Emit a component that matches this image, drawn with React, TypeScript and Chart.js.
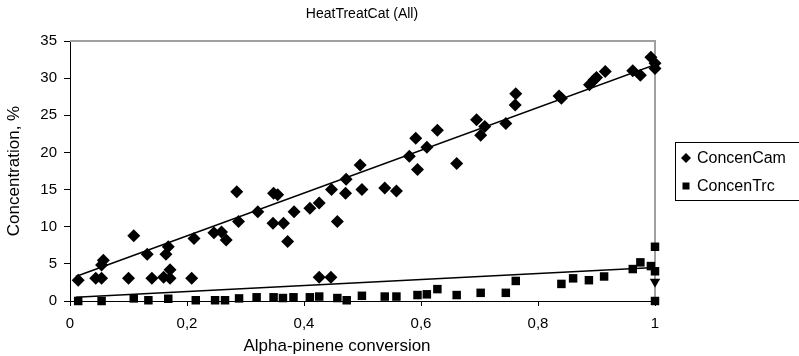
import React, { useEffect, useRef } from 'react';
import { Chart, registerables } from 'chart.js';

Chart.register(...registerables);

const FONT = '"Liberation Sans", Arial, sans-serif';

const chartTitle = 'HeatTreatCat (All)';
const xAxisTitle = 'Alpha-pinene conversion';
const yAxisTitle = 'Concentration, %';
const seriesNames = ['ConcenCam', 'ConcenTrc'];

const xTickValues = [0, 0.2, 0.4, 0.6, 0.8, 1];
const xTickLabels = ['0', '0,2', '0,4', '0,6', '0,8', '1'];
const yTickValues = [0, 5, 10, 15, 20, 25, 30, 35];
const yTickLabels = ['0', '5', '10', '15', '20', '25', '30', '35'];

const camX = [0.014, 0.044, 0.054, 0.054, 0.057, 0.1, 0.109, 0.132, 0.14, 0.16, 0.164, 0.168, 0.171, 0.171, 0.208, 0.212, 0.246, 0.259, 0.267, 0.288, 0.285, 0.321, 0.348, 0.355, 0.347, 0.365, 0.372, 0.383, 0.41, 0.426, 0.447, 0.472, 0.471, 0.457, 0.496, 0.499, 0.538, 0.558, 0.594, 0.58, 0.591, 0.61, 0.628, 0.661, 0.695, 0.709, 0.702, 0.745, 0.761, 0.762, 0.836, 0.84, 0.888, 0.896, 0.9, 0.915, 0.962, 0.975, 0.993, 1.0, 1.0, 0.426, 0.446];
const camY = [2.8, 3.05, 3.05, 4.85, 5.5, 3.05, 8.8, 6.3, 3.05, 3.2, 6.3, 7.3, 4.2, 3.05, 3.05, 8.4, 9.2, 9.3, 8.2, 10.7, 14.7, 12.0, 14.5, 14.3, 10.45, 10.45, 8.0, 12.0, 12.5, 13.2, 15.0, 16.4, 14.5, 10.7, 18.3, 15.0, 15.2, 14.8, 17.7, 19.5, 21.9, 20.7, 23.0, 18.5, 24.4, 23.5, 22.3, 23.9, 26.4, 27.9, 27.6, 27.3, 29.1, 29.8, 30.1, 30.9, 31.0, 30.4, 32.8, 32.0, 31.3, 3.2, 3.2];

const trcX = [0.014, 0.054, 0.109, 0.134, 0.168, 0.215, 0.248, 0.265, 0.289, 0.319, 0.348, 0.364, 0.382, 0.41, 0.426, 0.457, 0.473, 0.499, 0.538, 0.558, 0.594, 0.61, 0.628, 0.661, 0.702, 0.745, 0.762, 0.84, 0.86, 0.887, 0.913, 0.962, 0.975, 0.993, 1.0, 1.0, 1.0];
const trcY = [0, 0, 0.35, 0.1, 0.3, 0.1, 0.1, 0.1, 0.35, 0.5, 0.5, 0.4, 0.5, 0.5, 0.6, 0.4, 0.1, 0.7, 0.6, 0.6, 0.8, 0.9, 1.6, 0.8, 1.1, 1.1, 2.7, 2.3, 3.05, 2.8, 3.3, 4.3, 5.2, 4.7, 4.0, 7.3, 0];

const extraX = [1.0];
const extraY = [2.6];

const camTrendX = [0.01, 1.0];
const camTrendY = [3.3, 31.8];
const trcTrendX = [0.01, 1.0];
const trcTrendY = [0.5, 4.5];

const pts = (xs: number[], ys: number[]) => xs.map((x, i) => ({ x, y: ys[i] }));

const decor = {
  id: 'decor',
  beforeDatasetsDraw(chart: any) {
    const { ctx, chartArea: a } = chart;
    ctx.save();
    ctx.strokeStyle = '#a0a0a0';
    ctx.lineWidth = 2;
    ctx.beginPath();
    ctx.moveTo(a.left, a.top);
    ctx.lineTo(a.right, a.top);
    ctx.lineTo(a.right, a.bottom);
    ctx.stroke();
    ctx.restore();
  },
  afterDraw(chart: any) {
    const { ctx, chartArea: a } = chart;
    ctx.save();
    ctx.fillStyle = '#000';
    ctx.textAlign = 'center';
    ctx.textBaseline = 'middle';
    ctx.font = `14px ${FONT}`;
    ctx.fillText(chartTitle, 362, 14);
    ctx.font = `17px ${FONT}`;
    ctx.fillText(xAxisTitle, 337, 346);
    ctx.save();
    ctx.translate(14, (a.top + a.bottom) / 2);
    ctx.rotate(-Math.PI / 2);
    ctx.fillText(yAxisTitle, 0, 0);
    ctx.restore();

    // legend
    ctx.strokeStyle = '#000';
    ctx.lineWidth = 1;
    ctx.strokeRect(675.5, 142.5, 130, 58);
    ctx.font = `16px ${FONT}`;
    ctx.textAlign = 'left';
    const ly1 = 158, ly2 = 186, mx = 686;
    ctx.beginPath();
    ctx.moveTo(mx, ly1 - 5);
    ctx.lineTo(mx + 5, ly1);
    ctx.lineTo(mx, ly1 + 5);
    ctx.lineTo(mx - 5, ly1);
    ctx.closePath();
    ctx.fill();
    ctx.fillText(seriesNames[0], 697, ly1 + 1);
    ctx.fillRect(mx - 3.5, ly2 - 3.5, 7, 7);
    ctx.fillText(seriesNames[1], 697, ly2 + 1);
    ctx.restore();
  },
};

export default function App() {
  const ref = useRef<HTMLCanvasElement>(null);
  useEffect(() => {
    const canvas = ref.current;
    if (!canvas) return;
    const chart = new Chart(canvas, {
      type: 'scatter',
      data: {
        datasets: [
          {
            type: 'line',
            label: 'camTrend',
            data: pts(camTrendX, camTrendY),
            borderColor: '#000',
            borderWidth: 1.5,
            pointRadius: 0,
            fill: false,
            showLine: true,
          } as any,
          {
            type: 'line',
            label: 'trcTrend',
            data: pts(trcTrendX, trcTrendY),
            borderColor: '#000',
            borderWidth: 1.5,
            pointRadius: 0,
            fill: false,
            showLine: true,
          } as any,
          {
            label: seriesNames[0],
            data: pts(camX, camY),
            pointStyle: 'rectRot',
            pointRadius: 6.5,
            backgroundColor: '#000',
            borderColor: '#000',
            borderWidth: 0,
            clip: false,
          } as any,
          {
            label: seriesNames[1],
            data: pts(trcX, trcY),
            pointStyle: 'rect',
            pointRadius: 6,
            backgroundColor: '#000',
            borderColor: '#000',
            borderWidth: 0,
            clip: false,
          } as any,
          {
            label: 'extra',
            data: pts(extraX, extraY),
            pointStyle: 'triangle',
            rotation: 180,
            pointRadius: 6,
            backgroundColor: '#000',
            borderColor: '#000',
            borderWidth: 0,
            clip: false,
          } as any,
        ],
      },
      options: {
        responsive: false,
        animation: false,
        events: [],
        layout: { padding: { left: 0, top: 41, right: 144, bottom: 0 } },
        plugins: {
          legend: { display: false },
          title: { display: false },
          tooltip: { enabled: false },
        },
        scales: {
          x: {
            type: 'linear',
            min: 0,
            max: 1,
            afterFit: (s: any) => {
              s.height = 55;
            },
            afterBuildTicks: (s: any) => {
              s.ticks = xTickValues.map((v) => ({ value: v }));
            },
            ticks: {
              callback: (_v: any, i: number) => xTickLabels[i],
              color: '#000',
              font: { family: FONT, size: 15 },
              padding: 9,
              maxRotation: 0,
              autoSkip: false,
            },
            grid: { display: true, drawOnChartArea: false, drawTicks: true, tickLength: 5, color: '#000' },
            border: { display: true, color: '#000', width: 1 },
          },
          y: {
            type: 'linear',
            min: 0,
            max: 35,
            afterFit: (s: any) => {
              s.width = 70;
            },
            afterBuildTicks: (s: any) => {
              s.ticks = yTickValues.map((v) => ({ value: v }));
            },
            ticks: {
              callback: (_v: any, i: number) => yTickLabels[i],
              color: '#000',
              font: { family: FONT, size: 15 },
              padding: 7,
              autoSkip: false,
            },
            grid: { display: true, drawOnChartArea: false, drawTicks: true, tickLength: 6, color: '#000' },
            border: { display: true, color: '#000', width: 1 },
          },
        },
      },
      plugins: [decor],
    });
    return () => chart.destroy();
  }, []);
  return (
    <div style={{ position: 'absolute', left: 0, top: 0, width: 799, height: 356, background: '#fff' }}>
      <canvas ref={ref} width={799} height={356} style={{ display: 'block' }} />
    </div>
  );
}
